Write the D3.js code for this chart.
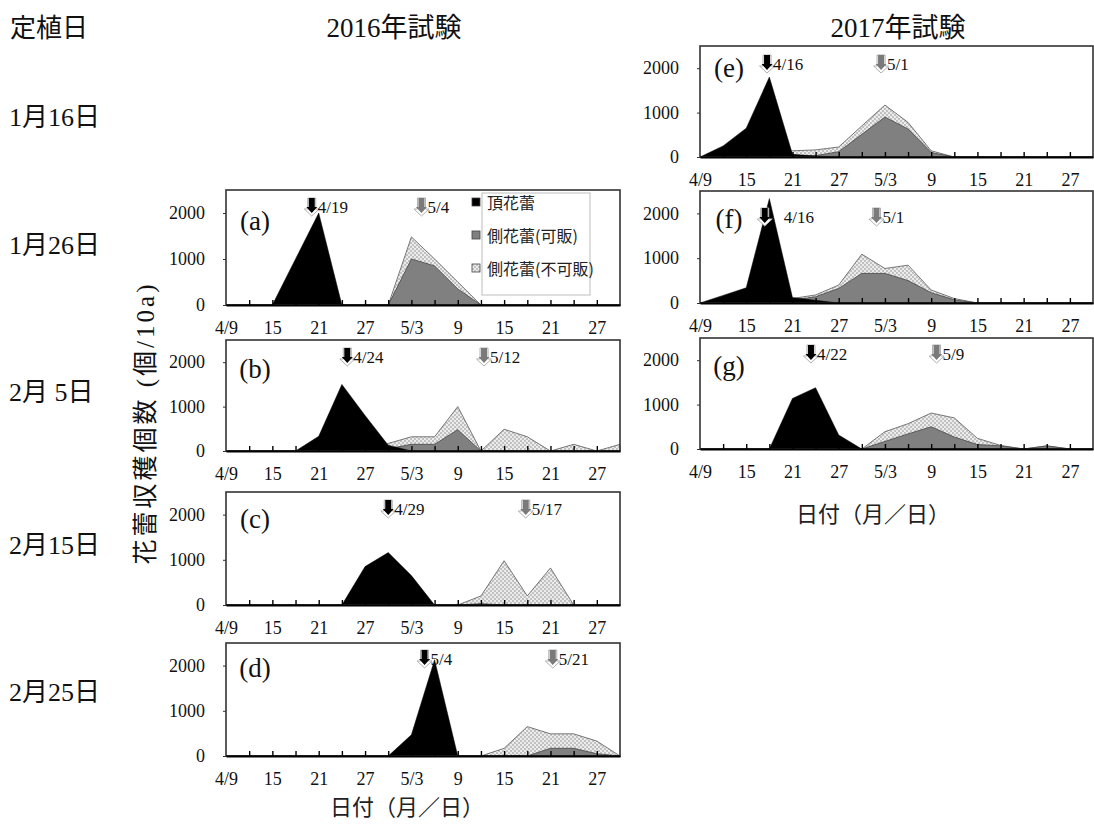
<!DOCTYPE html>
<html><head><meta charset="utf-8">
<script src="https://cdn.jsdelivr.net/npm/d3@7"></script>
<style>body{margin:0;background:#fff}svg{display:block}</style>
</head><body><svg id="c" width="1094" height="824"></svg>
<script>
// ---------- data ----------
// sampling days: 0 = 4/9, every 3 days up to 51 = 5/30
const days = d3.range(0, 52, 3);
const tickLabelDays = [0, 6, 12, 18, 24, 30, 36, 42, 48];
const tickLabels = ["4/9", "15", "21", "27", "5/3", "9", "15", "21", "27"];
const yTicks = [0, 1000, 2000];
const seriesNames = ["頂花蕾", "側花蕾(可販)", "側花蕾(不可販)"];
const plantDates = ["1月16日", "1月26日", "2月 5日", "2月15日", "2月25日"];
const panelNames = ["(a)", "(b)", "(c)", "(d)", "(e)", "(f)", "(g)"];

// terminal bud (頂花蕾)
const topA = [0,0,0,1000,2000,0,0,0,0,0,0,0,0,0,0,0,0,0];
const topB = [0,0,0,0,330,1500,800,130,0,0,0,0,0,0,0,0,0,0];
const topC = [0,0,0,0,0,0,850,1160,650,0,0,0,0,0,0,0,0,0];
const topD = [0,0,0,0,0,0,0,0,470,2130,0,0,0,0,0,0,0,0];
const topE = [0,250,650,1800,60,20,0,0,0,0,0,0,0,0,0,0,0,0];
const topF = [0,170,340,2330,120,60,0,0,0,0,0,0,0,0,0,0,0,0];
const topG = [0,0,0,0,1140,1380,316,0,0,0,0,0,0,0,0,0,0,0];
// lateral bud, marketable (側花蕾(可販))
const mkA = [0,0,0,0,0,0,0,0,1000,850,350,0,0,0,0,0,0,0];
const mkB = [0,0,0,0,0,0,0,50,150,150,480,0,0,0,0,0,0,0];
const mkC = [0,0,0,0,0,0,0,0,0,0,0,30,0,0,0,0,0,0];
const mkD = [0,0,0,0,0,0,0,0,0,0,0,0,0,0,170,170,50,0];
const mkE = [0,0,0,0,30,30,120,510,900,630,100,0,0,0,0,0,0,0];
const mkF = [0,0,0,0,60,140,325,660,660,500,230,70,0,0,0,0,0,0];
const mkG = [0,0,0,0,0,0,0,0,170,340,500,270,100,70,0,70,0,0];
// lateral bud, unmarketable (側花蕾(不可販))
const unA = [0,0,0,0,0,0,0,0,480,150,150,0,0,0,0,0,0,0];
const unB = [0,0,0,0,0,0,0,120,170,170,520,0,490,320,0,150,0,150];
const unC = [0,0,0,0,0,0,0,0,0,0,0,170,980,200,820,0,0,0];
const unD = [0,0,0,0,0,0,0,0,0,0,0,0,170,650,320,320,280,0];
const unE = [0,0,0,0,110,130,105,190,270,150,40,0,0,0,0,0,0,0];
const unF = [0,0,0,0,40,40,75,430,110,345,60,30,0,0,0,0,0,0];
const unG = [0,0,0,0,0,0,0,0,220,230,310,430,140,10,0,0,0,0];
// harvest-peak arrows: label and position (days from 4/9)
const arrowTopLabels = ["4/19", "4/24", "4/29", "5/4", "4/16", "4/16", "4/22"];
const arrowTopDays   = [11.1, 15.7, 21.0, 25.7, 8.7, 8.4, 14.4];
const arrowLatLabels = ["5/4", "5/12", "5/17", "5/21", "5/1", "5/1", "5/9"];
const arrowLatDays   = [25.3, 33.4, 38.8, 42.3, 23.5, 22.9, 30.7];

const tops = [topA, topB, topC, topD, topE, topF, topG];
const mks = [mkA, mkB, mkC, mkD, mkE, mkF, mkG];
const uns = [unA, unB, unC, unD, unE, unF, unG];

// ---------- layout ----------
const LX = [226, 620], RX = [700, 1093];
const rects = [
  {xr: LX, top: 190, bottom: 305, arrowDy: 8, labDy: 31, topTextDx: 6},
  {xr: LX, top: 340, bottom: 451, arrowDy: 8, labDy: 29, topTextDx: 6},
  {xr: LX, top: 492, bottom: 605, arrowDy: 8, labDy: 27, topTextDx: 6},
  {xr: LX, top: 643, bottom: 756, arrowDy: 7, labDy: 25, topTextDx: 6},
  {xr: RX, top: 46,  bottom: 157, arrowDy: 9, labDy: 22, topTextDx: 6},
  {xr: RX, top: 191, bottom: 303, arrowDy: 17, labDy: 28, topTextDx: 19},
  {xr: RX, top: 338, bottom: 449, arrowDy: 7, labDy: 28, topTextDx: 6}
];
const SERIF = "'Liberation Serif','Times New Roman','Noto Sans CJK JP',serif";
const SANS = "'Noto Sans CJK JP',sans-serif";

const svg = d3.select("#c");
const defs = svg.append("defs");
const pat = defs.append("pattern").attr("id", "dots").attr("patternUnits", "userSpaceOnUse")
  .attr("width", 4).attr("height", 4);
pat.append("rect").attr("width", 4).attr("height", 4).attr("fill", "#ececec");
pat.append("circle").attr("cx", 1).attr("cy", 1).attr("r", 0.8).attr("fill", "#8a8a8a");
pat.append("circle").attr("cx", 3).attr("cy", 3).attr("r", 0.8).attr("fill", "#8a8a8a");

function arrow(g, cx, tipY, fillInner) {
  const outer = [[-4,-18],[4,-18],[4,-7],[7.5,-7],[0,0],[-7.5,-7],[-4,-7]];
  const inner = [[-3,-18],[3,-18],[3,-9],[5.5,-9],[0,-3],[-5.5,-9],[-3,-9]];
  const line = d3.line();
  g.append("path").attr("d", line(outer.map(p => [cx + p[0], tipY + p[1]])) + "Z")
    .attr("fill", "#fff").attr("stroke", "#b0b0b0").attr("stroke-width", 1);
  g.append("path").attr("d", line(inner.map(p => [cx + p[0], tipY + p[1]])) + "Z")
    .attr("fill", fillInner);
}

rects.forEach((r, i) => {
  const x = d3.scaleLinear().domain([0, 51]).range(r.xr);
  const y = d3.scaleLinear().domain([0, 2500]).range([r.bottom, r.top]);
  const rows = days.map((d, k) => ({day: d, top: tops[i][k], mk: mks[i][k], un: uns[i][k]}));
  const g = svg.append("g");

  // lateral total (dotted)
  g.append("path").datum(rows)
    .attr("d", d3.area().x(d => x(d.day)).y0(y(0)).y1(d => y(d.mk + d.un)))
    .attr("fill", "url(#dots)").attr("stroke", "#6a6a6a").attr("stroke-width", 0.9);
  // lateral marketable (gray)
  g.append("path").datum(rows)
    .attr("d", d3.area().x(d => x(d.day)).y0(y(0)).y1(d => y(d.mk)))
    .attr("fill", "#808080").attr("stroke", "#505050").attr("stroke-width", 0.9);
  // terminal (black)
  g.append("path").datum(rows)
    .attr("d", d3.area().x(d => x(d.day)).y0(y(0)).y1(d => y(d.top)))
    .attr("fill", "#000").attr("stroke", "#000").attr("stroke-width", 0.5);

  // frame
  g.append("rect").attr("x", r.xr[0]).attr("y", r.top)
    .attr("width", r.xr[1] - r.xr[0]).attr("height", r.bottom - r.top)
    .attr("fill", "none").attr("stroke", "#333").attr("stroke-width", 1.6);

  // inner ticks
  const tk = g.append("g").attr("transform", `translate(0,${r.bottom})`)
    .call(d3.axisTop(x).tickValues(d3.range(3, 51, 3)).tickSize(5).tickFormat(""));
  tk.select(".domain").remove();
  tk.selectAll("line").attr("stroke", "#000").attr("stroke-width", 1.4);
  // bottom axis line + labels
  const xa = g.append("g").attr("transform", `translate(0,${r.bottom})`)
    .call(d3.axisBottom(x).tickValues(tickLabelDays).tickSize(0).tickPadding(16)
      .tickFormat((d, k) => tickLabels[k]));
  xa.select(".domain").attr("stroke", "#000").attr("stroke-width", 2);
  xa.selectAll("text").attr("font-family", SERIF).attr("font-size", 18).attr("fill", "#111");

  const ya = g.append("g").attr("transform", `translate(${r.xr[0]},0)`)
    .call(d3.axisLeft(y).tickValues(yTicks).tickSize(3).tickPadding(18).tickFormat(d3.format("d")));
  ya.select(".domain").remove();
  ya.selectAll("line").attr("stroke", "#333");
  ya.selectAll("text").attr("font-family", SERIF).attr("font-size", 18).attr("fill", "#111");

  // panel label
  g.append("text").attr("x", r.xr[0] + 29).attr("y", r.top + r.labDy)
    .attr("text-anchor", "middle").attr("dominant-baseline", "central")
    .attr("font-family", SERIF).attr("font-size", 27).attr("fill", "#111").text(panelNames[i]);

  // arrows
  const tipY = r.top + r.arrowDy + 18;
  const ax1 = x(arrowTopDays[i]), ax2 = x(arrowLatDays[i]);
  arrow(g, ax1, tipY, "#000");
  arrow(g, ax2, tipY, "#7a7a7a");
  g.append("text").attr("x", ax1 + r.topTextDx).attr("y", tipY - 9)
    .attr("dominant-baseline", "central").attr("font-family", SERIF).attr("font-size", 17)
    .attr("fill", "#111").text(arrowTopLabels[i]);
  g.append("text").attr("x", ax2 + 6).attr("y", tipY - 9)
    .attr("dominant-baseline", "central").attr("font-family", SERIF).attr("font-size", 17)
    .attr("fill", "#111").text(arrowLatLabels[i]);
});

// legend (in panel a)
const lg = svg.append("g");
lg.append("rect").attr("x", 482).attr("y", 193).attr("width", 108).attr("height", 102)
  .attr("fill", "#fff").attr("stroke", "#bdbdbd").attr("stroke-width", 1);
const legFills = ["#000", "#808080", "url(#dots)"];
seriesNames.forEach((n, k) => {
  const cy = 202 + k * 33;
  lg.append("rect").attr("x", 472).attr("y", cy - 4).attr("width", 8).attr("height", 8)
    .attr("fill", legFills[k]).attr("stroke", "#444").attr("stroke-width", 0.8);
  lg.append("text").attr("x", 487).attr("y", cy).attr("dominant-baseline", "central")
    .attr("font-family", SANS).attr("font-size", 16).attr("fill", "#222").text(n);
});

// titles and row labels
svg.append("text").attr("x", 10).attr("y", 28).attr("dominant-baseline", "central")
  .attr("font-family", SERIF).attr("font-size", 26).attr("fill", "#111").text("定植日");
svg.append("text").attr("x", 394).attr("y", 28).attr("text-anchor", "middle").attr("dominant-baseline", "central")
  .attr("font-family", SERIF).attr("font-size", 27).attr("fill", "#111").text("2016年試験");
svg.append("text").attr("x", 898).attr("y", 28).attr("text-anchor", "middle").attr("dominant-baseline", "central")
  .attr("font-family", SERIF).attr("font-size", 27).attr("fill", "#111").text("2017年試験");
const rowY = [117, 245, 392, 545, 692];
plantDates.forEach((t, k) => {
  svg.append("text").attr("x", 9).attr("y", rowY[k]).attr("dominant-baseline", "central")
    .attr("font-family", SERIF).attr("font-size", 26).attr("fill", "#111").text(t);
});

// axis titles
svg.append("text").attr("transform", "translate(145,423) rotate(-90)")
  .attr("text-anchor", "middle").attr("dominant-baseline", "central")
  .attr("font-family", SERIF).attr("font-size", 25).attr("letter-spacing", 3)
  .attr("fill", "#111").text("花蕾収穫個数 (個/10a)");
svg.append("text").attr("x", 407).attr("y", 805).attr("text-anchor", "middle").attr("dominant-baseline", "central")
  .attr("font-family", SANS).attr("font-size", 22).attr("fill", "#222").text("日付（月／日）");
svg.append("text").attr("x", 873).attr("y", 512).attr("text-anchor", "middle").attr("dominant-baseline", "central")
  .attr("font-family", SANS).attr("font-size", 22).attr("fill", "#222").text("日付（月／日）");
</script></body></html>
